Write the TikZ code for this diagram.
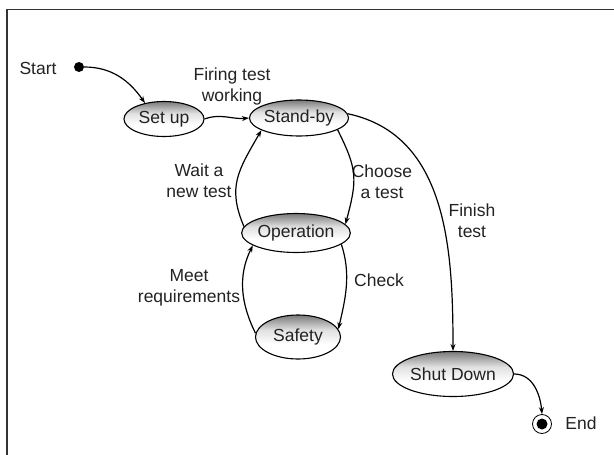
\documentclass[tikz,border=0pt]{standalone}
\usepackage{fontspec}
\setmainfont{Liberation Sans}
\usetikzlibrary{shapes.geometric,arrows.meta}
\definecolor{txt}{HTML}{222222}
\pgfdeclareverticalshading{stateshade}{100bp}{color(0bp)=(white); color(25bp)=(white); color(42bp)=(white); color(58bp)=(black!12); color(75bp)=(black!52); color(100bp)=(black!52)}
\tikzset{
  state/.style={ellipse,draw=black,line width=1.1pt,inner sep=0pt,
    shading=stateshade,
    text=txt,font=\fontsize{17.5}{21}\selectfont},
  lbl/.style={text=txt,font=\fontsize{17.5}{21}\selectfont,align=center,inner sep=0pt},
  conn/.style={line width=1.2pt,-{Stealth[length=7pt,width=5pt]}},
  frame/.style={line width=1.8pt,draw=black!80}
}
\begin{document}
\begin{tikzpicture}[x=1pt,y=1pt]
\useasboundingbox (0,0) rectangle (614,-455);
\draw[frame] (7,-455) -- (7,-9.5) -- (614,-9.5);
% nodes
\node[circle,fill=black,inner sep=0pt,minimum size=10pt] (start) at (79,-67) {};
\node[lbl] (startl) at (38,-68) {Start};
\node[state,minimum width=80pt,minimum height=35pt] (setup) at (164,-119) {Set up};
\node[state,minimum width=77pt,minimum height=36pt] (standby) at (299,-118) {Stand-by};
\node[state,minimum width=86pt,minimum height=39pt] (operation) at (296,-233) {Operation};
\node[state,minimum width=85pt,minimum height=44pt] (safety) at (298,-337) {Safety};
\node[state,minimum width=93pt,minimum height=45pt] (shutdown) at (453,-374) {Shut Down};
\node[circle,draw=black,line width=0.8pt,inner sep=0pt,minimum size=19pt] (end) at (542,-424) {};
\node[circle,fill=black,inner sep=0pt,minimum size=11pt] (endin) at (end.center) {};
\node[lbl] (endl) at (581,-423) {End};
% labels
\node[lbl] (l1) at (232,-86) {Firing test\\working};
\node[lbl] (l2) at (199,-181) {Wait a\\new test};
\node[lbl] (l3) at (382,-182) {Choose\\a test};
\node[lbl] (l4) at (472,-221) {Finish\\test};
\node[lbl] (l5) at (379,-280) {Check};
\node[lbl] (l6) at (189,-288) {Meet\\requirements};
% connectors
\draw[conn] (start.east) to[out=0,in=125] (setup.140);
\draw[conn] (setup.east) to[out=20,in=185] (standby.west);
\draw[conn] (standby.-17) .. controls +(20,-40) and +(12,45) .. (operation.10);
\draw[conn] (operation.173) .. controls +(-17,40) and +(-23,-40) .. (standby.198);
\draw[conn] (operation.-14) .. controls +(10,-30) and +(7,30) .. (safety.11);
\draw[conn] (safety.175) .. controls +(-15,30) and +(-15,-30) .. (operation.196);
\draw[conn] (standby.5) to[out=-12,in=90] (shutdown.north);
\draw[conn] (shutdown.east) to[out=0,in=95] (end.north);
\end{tikzpicture}
\end{document}
